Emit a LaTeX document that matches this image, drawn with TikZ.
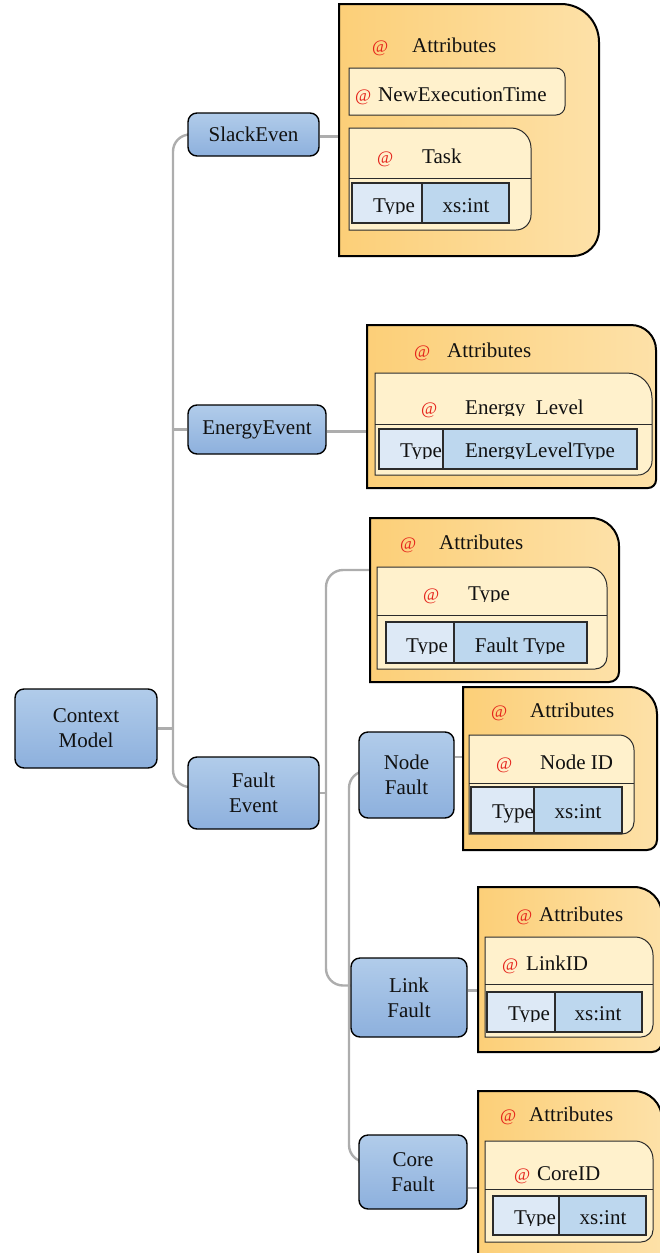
\documentclass[tikz,border=0pt]{standalone}
\usepackage{fontspec}
\setmainfont{Liberation Serif}
\usetikzlibrary{calc}

\definecolor{linkgray}{HTML}{ADADAD}
\definecolor{blueTop}{HTML}{B1CCEA}
\definecolor{blueBot}{HTML}{8DB0DD}
\definecolor{orangeL}{HTML}{FCCF78}
\definecolor{orangeR}{HTML}{FDE1A8}
\definecolor{cream}{HTML}{FFF1CC}
\definecolor{cellLight}{HTML}{DDE9F6}
\definecolor{cellDark}{HTML}{BDD7EE}
\definecolor{atRed}{HTML}{E5231B}
\definecolor{inkblack}{HTML}{111111}
\definecolor{rule}{HTML}{2B2B2B}

\pgfdeclarelayer{wires}
\pgfsetlayers{wires,main}

\tikzset{
  conn/.style={draw=linkgray, line width=2.4pt, rounded corners=17pt},
  topic/.style={draw=black, line width=1.4pt, rounded corners=9pt,
    top color=blueTop, bottom color=blueBot, align=center, inner sep=0pt,
    font=\fontsize{21}{25}\selectfont, text=inkblack},
  holder/.style={inner sep=0pt, outer sep=0pt, anchor=north west},
  outerbox/.style={draw=black, line width=2pt, left color=orangeL, right color=orangeR},
  innerbox/.style={draw=rule, line width=1pt, fill=cream},
  divider/.style={draw=rule, line width=1pt},
  lightcell/.style={draw=rule, line width=1.2pt, fill=cellLight},
  darkcell/.style={draw=rule, line width=1.2pt, fill=cellDark},
  txt/.style={inner sep=0pt, font=\fontsize{21}{25}\selectfont, text=inkblack},
  attag/.style={inner sep=0pt, font=\fontsize{17.5}{20}\selectfont, text=atRed},
}

% frame with square left corners and rounded right corners
% #1 name, #2 x1, #3 y1, #4 x2, #5 y2, #6 top-right radius, #7 bottom-right radius, #8 style
\newcommand\tagframe[8]{%
  \node[holder, minimum width={(#4-#2)*1pt}, minimum height={(#5-#3)*1pt}] (#1) at (#2,#3) {};
  \path[#8] (#1.south west) -- (#1.north west)
    -- ([xshift=-#6pt]#1.north east) arc[start angle=90, end angle=0, radius=#6pt]
    -- ([yshift=#7pt]#1.south east) arc[start angle=0, end angle=-90, radius=#7pt]
    -- cycle;}

% plain table cell: #1 name, #2 x1, #3 y1, #4 x2, #5 y2, #6 style
\newcommand\tablecell[6]{%
  \node[holder, #6, minimum width={(#4-#2)*1pt}, minimum height={(#5-#3)*1pt}] (#1) at (#2,#3) {};}

% text cut off just below its baseline: #1 name, #2 anchor, #3 x, #4 y, #5 text
\newcommand\cuttext[5]{%
  \begin{scope}
    \clip (#3-160,#4-30) rectangle (#3+160,#4+1.6);
    \node[txt, anchor=#2] (#1) at (#3,#4) {#5};
  \end{scope}}

\begin{document}
\begin{tikzpicture}[x=1pt, y=-1pt]
\clip (0,0) rectangle (660,1253);

% ---------- topic nodes ----------
\node[topic, minimum width=142pt, minimum height=79pt] (cm) at (86,728.5) {Context\\Model};
\node[topic, minimum width=131pt, minimum height=43pt] (slack) at (253.5,134.5) {SlackEven};
\node[topic, minimum width=138pt, minimum height=49pt] (energy) at (257,429.5) {EnergyEvent};
\node[topic, minimum width=131pt, minimum height=72pt] (fault) at (253.5,793) {Fault\\Event};
\node[topic, minimum width=95pt, minimum height=86pt] (nodef) at (406.5,775) {Node\\Fault};
\node[topic, minimum width=116pt, minimum height=79pt] (linkf) at (409,997.5) {Link\\Fault};
\node[topic, minimum width=108pt, minimum height=74pt] (coref) at (413,1172) {Core\\Fault};

% ---------- attribute frames ----------
\tagframe{sA}{339}{4}{599}{256}{38}{26}{outerbox}
\tagframe{eA}{367}{325}{656}{488}{25}{8}{outerbox}
\tagframe{fA}{370}{518}{619}{682}{28}{10}{outerbox}
\tagframe{nA}{463}{687}{657}{850}{27}{10}{outerbox}
\tagframe{lA}{478}{887}{662}{1052}{28}{10}{outerbox}
\tagframe{cA}{478}{1091}{662}{1270}{28}{10}{outerbox}

% ---------- connectors (behind everything) ----------
\coordinate (trunkA) at (173,0);
\coordinate (trunkB) at (326,0);
\coordinate (trunkC) at (349,0);
\coordinate (fAin) at ([yshift=30pt]fA.west);
\coordinate (linkIn) at ([yshift=12pt]linkf.west);
\coordinate (nodeIn) at ([yshift=4pt]nodef.west);
\coordinate (coreIn) at ([yshift=10pt]coref.west);
\coordinate (faultIn) at ([yshift=6pt]fault.west);

\begin{pgfonlayer}{wires}
\draw[conn] (slack.west) -- (slack.west -| trunkA) -- (faultIn -| trunkA) -- (faultIn);
\draw[conn] (cm.east) -- (cm.east -| trunkA);
\draw[conn] (energy.west) -- (energy.west -| trunkA);
\draw[conn] ([yshift=-2pt]slack.east) -- ([yshift=-2pt]slack.east -| sA.west);
\draw[conn] ([yshift=-2pt]energy.east) -- ([yshift=-2pt]energy.east -| eA.west);
\draw[conn] (fault.east) -- (fault.east -| trunkB);
\draw[conn] (fAin) -- (fAin -| trunkB) -- (linkIn -| trunkB) -- (linkIn);
\draw[conn] (nodeIn) -- (nodeIn -| trunkC) -- (coreIn -| trunkC) -- (coreIn);
\draw[conn] ([yshift=18pt]nodef.east) -- ([yshift=18pt]nodef.east -| nA.west);
\draw[conn] ([yshift=7pt]linkf.east) -- ([yshift=7pt]linkf.east -| lA.west);
\draw[conn] ([yshift=-16pt]coref.east) -- ([yshift=-16pt]coref.east -| cA.west);
\end{pgfonlayer}

% ---------- SlackEven attributes ----------
\node[attag, anchor=base west] (sAt) at (372,52) {@};
\node[txt, anchor=base west] (sAl) at (412,52) {Attributes};
\tagframe{sB}{349}{68}{565}{115}{9}{9}{innerbox}
\node[attag, anchor=base west] (sBt) at (355,101) {@};
\node[txt, anchor=base west] (sBl) at (378,101) {NewExecutionTime};
\tagframe{sC}{349}{128}{531}{230}{20}{15}{innerbox}
\draw[divider] (349,178) -- (531,178);
\node[attag, anchor=base west] (sCt) at (377,163) {@};
\node[txt, anchor=base west] (sCl) at (422,163) {Task};
\tablecell{sC1}{352}{183}{422}{223}{lightcell}
\tablecell{sC2}{422}{183}{509}{223}{darkcell}
\cuttext{sC1l}{base}{394}{212}{Type}
\node[txt, anchor=base] (sC2l) at (466,212) {xs:int};

% ---------- EnergyEvent attributes ----------
\node[attag, anchor=base west] (eAt) at (414,357) {@};
\node[txt, anchor=base west] (eAl) at (447,357) {Attributes};
\tagframe{eB}{375}{373}{652}{475}{25}{14}{innerbox}
\draw[divider] (375,424) -- (652,424);
\node[attag, anchor=base west] (eBt) at (421,414) {@};
\cuttext{eBl}{base west}{465}{414}{Energy~ Level}
\tablecell{eB1}{379}{429}{443}{469}{lightcell}
\tablecell{eB2}{443}{429}{637}{469}{darkcell}
\cuttext{eB1l}{base}{421}{457}{Type}
\cuttext{eB2l}{base}{540}{457}{EnergyLevelType}

% ---------- Fault Event attributes ----------
\node[attag, anchor=base west] (fAt) at (400,549) {@};
\node[txt, anchor=base west] (fAl) at (439,549) {Attributes};
\tagframe{fB}{377}{567}{607}{669}{20}{12}{innerbox}
\draw[divider] (377,615) -- (607,615);
\node[attag, anchor=base west] (fBt) at (423,600) {@};
\cuttext{fBl}{base west}{468}{600}{Type}
\tablecell{fB1}{386}{622}{454}{663}{lightcell}
\tablecell{fB2}{454}{622}{587}{663}{darkcell}
\cuttext{fB1l}{base}{427}{652}{Type}
\cuttext{fB2l}{base}{520}{652}{Fault Type}

% ---------- Node Fault attributes ----------
\node[attag, anchor=base west] (nAt) at (491,717) {@};
\node[txt, anchor=base west] (nAl) at (530,717) {Attributes};
\tagframe{nB}{469}{735}{634}{834}{15}{12}{innerbox}
\draw[divider] (469,783) -- (634,783);
\node[attag, anchor=base west] (nBt) at (496,769) {@};
\node[txt, anchor=base west] (nBl) at (540,769) {Node ID};
\tablecell{nB1}{471}{787}{534}{833}{lightcell}
\tablecell{nB2}{534}{787}{622}{833}{darkcell}
\node[txt, anchor=base] (nB1l) at (513,818) {Type};
\node[txt, anchor=base] (nB2l) at (578,818) {xs:int};

% ---------- Link Fault attributes ----------
\node[attag, anchor=base west] (lAt) at (516,921) {@};
\node[txt, anchor=base west] (lAl) at (539,921) {Attributes};
\tagframe{lB}{485}{937}{653}{1037}{18}{12}{innerbox}
\draw[divider] (485,984) -- (653,984);
\node[attag, anchor=base west] (lBt) at (502,970) {@};
\node[txt, anchor=base west] (lBl) at (526,970) {LinkID};
\tablecell{lB1}{487}{992}{555}{1032}{lightcell}
\tablecell{lB2}{555}{992}{642}{1032}{darkcell}
\cuttext{lB1l}{base}{529}{1020}{Type}
\node[txt, anchor=base] (lB2l) at (598,1020) {xs:int};

% ---------- Core Fault attributes ----------
\node[attag, anchor=base west] (cAt) at (500,1121) {@};
\node[txt, anchor=base west] (cAl) at (529,1121) {Attributes};
\tagframe{cB}{485}{1141}{653}{1242}{18}{12}{innerbox}
\draw[divider] (485,1189) -- (653,1189);
\node[attag, anchor=base west] (cBt) at (514,1180) {@};
\node[txt, anchor=base west] (cBl) at (537,1180) {CoreID};
\tablecell{cB1}{493}{1196}{559}{1235}{lightcell}
\tablecell{cB2}{559}{1196}{646}{1235}{darkcell}
\cuttext{cB1l}{base}{535}{1224}{Type}
\node[txt, anchor=base] (cB2l) at (603,1224) {xs:int};

\end{tikzpicture}
\end{document}
